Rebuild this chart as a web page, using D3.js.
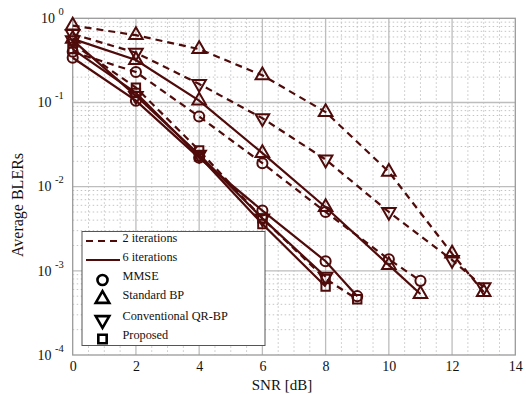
<!DOCTYPE html>
<html><head><meta charset="utf-8">
<script src="https://cdn.jsdelivr.net/npm/d3@7/dist/d3.min.js"></script>
<style>body{margin:0;background:#fff}svg{display:block}</style>
</head><body><div id="c"></div>
<script>
const xTicks = [0,2,4,6,8,10,12,14];
const yDecades = [0,-1,-2,-3,-4];
const mmse2X = [0,2,4,6,8,10,11];
const mmse2Y = [0.40,0.23,0.068,0.019,0.005,0.00137,0.00076];
const mmse6X = [0,2,4,6,8,9];
const mmse6Y = [0.34,0.105,0.022,0.0052,0.0013,0.0005];
const sbp2X = [0,2,4,6,8,10,12,13];
const sbp2Y = [0.82,0.63,0.43,0.21,0.077,0.015,0.0016,0.00056];
const sbp6X = [0,2,4,6,8,10,11];
const sbp6Y = [0.57,0.32,0.105,0.025,0.0057,0.00117,0.00053];
const qr2X = [0,2,4,6,8,10,12,13];
const qr2Y = [0.65,0.39,0.166,0.065,0.021,0.005,0.00135,0.00064];
const qr6X = [0,2,4,6,8];
const qr6Y = [0.55,0.12,0.024,0.0042,0.00085];
const prop2X = [0,2,4,6,8,9];
const prop2Y = [0.50,0.15,0.027,0.0042,0.0008,0.00046];
const prop6X = [0,2,4,6,8];
const prop6Y = [0.43,0.13,0.023,0.0036,0.00065];
const legendLines = ["2 iterations","6 iterations"];
const legendMarkers = ["MMSE","Standard BP","Conventional QR-BP","Proposed"];

const series = [
 {x:sbp2X,y:sbp2Y,m:"up",dash:true},
 {x:qr2X,y:qr2Y,m:"down",dash:true},
 {x:mmse2X,y:mmse2Y,m:"circle",dash:true},
 {x:prop2X,y:prop2Y,m:"square",dash:true},
 {x:sbp6X,y:sbp6Y,m:"up",dash:false},
 {x:qr6X,y:qr6Y,m:"down",dash:false},
 {x:mmse6X,y:mmse6Y,m:"circle",dash:false},
 {x:prop6X,y:prop6Y,m:"square",dash:false}
];

const W=526,H=394, L=72.7,R=515.3,T=18.3,B=355;
const col="#4f0a0a";
const FF="Liberation Serif";
const svg=d3.select("#c").append("svg").attr("width",W).attr("height",H).attr("font-family",FF);
const x=d3.scaleLinear().domain([0,14]).range([L,R]);
const y=d3.scaleLog().domain([1e-4,1]).range([B,T]);

const g=svg.append("g");
for(let v=0.5; v<14; v+=0.5){ if(v%2!==0) g.append("line").attr("x1",x(v)).attr("x2",x(v)).attr("y1",T).attr("y2",B).attr("stroke","#c4c4c4").attr("stroke-width",1).attr("stroke-dasharray","1.5,2.5"); }
for(let d=-4; d<0; d++){ for(let k=2;k<=9;k++){ const v=k*Math.pow(10,d); g.append("line").attr("x1",L).attr("x2",R).attr("y1",y(v)).attr("y2",y(v)).attr("stroke","#c4c4c4").attr("stroke-width",1).attr("stroke-dasharray","1.5,2.5"); } }
xTicks.forEach(v=>{ if(v>0&&v<14) g.append("line").attr("x1",x(v)).attr("x2",x(v)).attr("y1",T).attr("y2",B).attr("stroke","#bdbdbd").attr("stroke-width",1.3); });
yDecades.forEach(d=>{ if(d<0&&d>-4) g.append("line").attr("x1",L).attr("x2",R).attr("y1",y(Math.pow(10,d))).attr("y2",y(Math.pow(10,d))).attr("stroke","#bdbdbd").attr("stroke-width",1.3); });
svg.append("rect").attr("x",L).attr("y",T).attr("width",R-L).attr("height",B-T).attr("fill","none").attr("stroke","#9a9a9a").attr("stroke-width",1.3);

const xa=d3.axisBottom(x).tickValues(xTicks).tickSize(0).tickPadding(6).tickFormat(d3.format("d"));
const xg=svg.append("g").attr("transform",`translate(0,${B})`).call(xa).attr("font-family",FF);
xg.select(".domain").remove();
xg.selectAll("text").attr("font-size",14).attr("fill","#111");
const ya=d3.axisLeft(y).tickValues(yDecades.map(d=>Math.pow(10,d))).tickSize(0).tickPadding(9).tickFormat(()=>"");
const yg=svg.append("g").attr("transform",`translate(${L},0)`).call(ya).attr("font-family",FF);
yg.select(".domain").remove();
yg.selectAll(".tick").each(function(v){
  const t=d3.select(this).select("text").attr("font-size",14).attr("text-anchor","end").attr("dy","0.3em").attr("fill","#111");
  const e=Math.round(Math.log10(v));
  t.text(null);
  t.append("tspan").text("10 ");
  t.append("tspan").attr("font-size",10.5).attr("dy","-0.75em").text(e===0?"0":String(e));
  t.attr("x",-9);
});

svg.append("text").attr("x",282).attr("y",390).attr("text-anchor","middle").attr("font-size",15).attr("fill","#111").text("SNR [dB]");
svg.append("text").attr("transform",`translate(23,205) rotate(-90)`).attr("text-anchor","middle").attr("font-size",16).attr("fill","#111").text("Average BLERs");

function markerPath(m){
  if(m==="circle") return d3.symbol(d3.symbolCircle,80)();
  if(m==="square") return d3.symbol(d3.symbolSquare,70)();
  return d3.symbol(d3.symbolTriangle,80)();
}
function drawMarker(sel,m,cx,cy,c,sw){
  sel.append("path").attr("d",markerPath(m))
   .attr("transform",`translate(${cx},${cy})`+(m==="down"?" rotate(180)":""))
   .attr("fill","none").attr("stroke",c).attr("stroke-width",sw);
}

const line=d3.line().x(d=>x(d[0])).y(d=>y(d[1]));
series.forEach(s=>{
  const pts=s.x.map((v,i)=>[v,s.y[i]]);
  svg.append("path").attr("d",line(pts)).attr("fill","none").attr("stroke",col).attr("stroke-width",2.2)
    .attr("stroke-dasharray",s.dash?"7,5":null);
  pts.forEach(p=>drawMarker(svg,s.m,x(p[0]),y(p[1]),col,2));
});

const lg=svg.append("g");
lg.append("rect").attr("x",82).attr("y",231.5).attr("width",183).attr("height",114).attr("fill","#fff").attr("stroke","#555").attr("stroke-width",1);
const rows=[238,257,276,295,316,335];
function legText(tx,ty,t){
  lg.append("text").attr("transform",`translate(${tx},${ty}) scale(0.91,1)`).attr("font-size",13.5).attr("fill","#111").text(t);
}
legendLines.forEach((t,i)=>{
  lg.append("line").attr("x1",86).attr("x2",120).attr("y1",rows[i]+3).attr("y2",rows[i]+3).attr("stroke",col).attr("stroke-width",2.2).attr("stroke-dasharray",i===0?"7,5":null);
  legText(122.5,rows[i]+4,t);
});
const lm=["circle","up","down","square"];
legendMarkers.forEach((t,i)=>{
  drawMarker(lg,lm[i],102.5,rows[i+2]+4,"#000",2.6);
  legText(122.5,rows[i+2]+4,t);
});
</script></body></html>
